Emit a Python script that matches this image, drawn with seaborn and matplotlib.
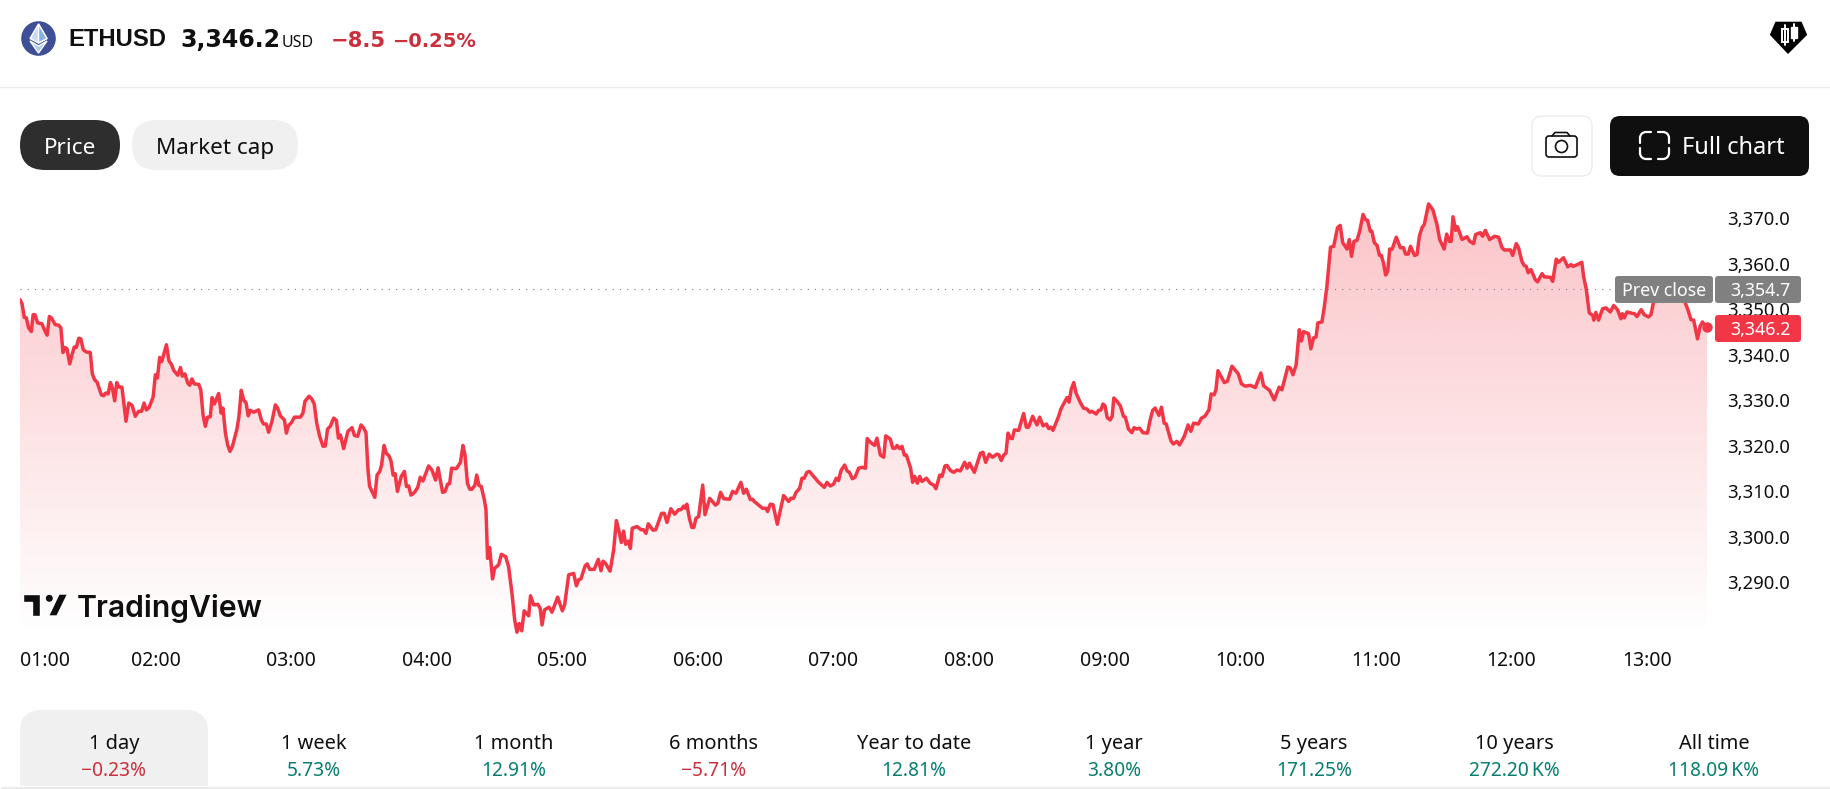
import numpy as np
import pandas as pd
import matplotlib
matplotlib.use("Agg")
import matplotlib.pyplot as plt
from matplotlib.patches import FancyBboxPatch, Circle, Polygon, Rectangle, Arc
from matplotlib.transforms import ScaledTranslation
import seaborn as sns

# ---- session data: minutes after 01:00 and ETHUSD price ----
minutes = [
    0, .9, 1.9, 2.8, 3.8, 5.0, 5.8, 6.6, 7.8, 9.7, 10.8, 12.0, 13.0, 13.9, 15.6, 17.1, 18.1, 19.0, 19.9, 20.8,
    22.0, 23.0, 24.0, 24.9, 26.0, 26.9, 28.0, 29.4, 31.1, 32.0, 33.0, 34.1, 36.0, 37.0, 37.9, 39.0, 40.0, 40.9, 41.9, 42.8,
    43.8, 45.1, 46.2, 46.9, 48.1, 49.6, 51.0, 52.5, 53.8, 54.9, 55.9, 57.1, 58.9, 59.9, 60.8, 61.8, 62.7, 64.8, 65.9, 67.1,
    68.0, 69.8, 71.0, 71.8, 73.0, 74.2, 75.1, 76.1, 77.1, 79.1, 80.0, 81.0, 82.0, 83.0, 84.2, 85.0, 86.0, 87.9, 89.0, 89.8,
    90.9, 91.9, 92.9, 94.0, 96.0, 96.9, 97.9, 99.0, 100.0, 101.0, 101.9, 103.4, 105.6, 106.8, 107.8, 109.0, 110.0, 111.5, 113.0, 114.0,
    115.2, 117.0, 117.9, 118.7, 120.1, 121.4, 124.1, 125.2, 126.1, 127.9, 129.1, 130.2, 131.3, 132.6, 134.1, 135.1, 136.1, 137.3, 138.8, 140.0,
    140.9, 141.8, 143.2, 145.1, 146.9, 148.0, 149.4, 150.9, 152.1, 153.1, 154.0, 154.7, 157.0, 158.0, 159.2, 160.0, 161.1, 162.1, 163.3, 164.2,
    165.1, 166.0, 167.0, 168.7, 170.1, 171.0, 172.0, 173.0, 174.6, 176.0, 177.1, 178.3, 180.8, 182.3, 183.9, 185.0, 186.0, 187.0, 188.1, 189.2,
    190.1, 191.0, 193.1, 194.9, 196.0, 196.9, 198.0, 199.0, 200.0, 201.3, 202.1, 203.1, 204.1, 205.5,
    206.2, 206.9, 207.8, 209.1, 210.0, 211.8, 213.0, 214.9, 216.2, 217.7, 218.9, 219.9, 220.9, 222.0, 223.1, 225.1, 225.9, 227.3, 229.2, 230.2,
    231.0, 232.1, 234.1, 235.4, 237.9, 240.0, 241.0, 242.8, 245.0, 246.2, 247.2, 248.2, 250.1, 251.0, 252.1, 254.1, 255.9, 257.1, 258.0, 259.1,
    261.1, 262.7, 263.9, 264.9, 266.1, 267.1, 268.0, 269.2, 270.1, 270.9, 273.0, 274.8, 275.9, 277.0, 278.0, 280.1, 281.3, 283.9, 285.1, 286.3,
    288.0, 289.7, 291.4, 292.5, 293.7, 294.4, 295.1, 296.2, 297.3, 298.2, 299.1, 300.3, 302.1, 303.1, 305.2, 307.7, 308.8, 310.0, 311.4, 314.0,
    315.3, 316.8, 319.0, 320.2, 321.4, 323.2, 324.2, 324.9, 328.6, 330.1, 330.8, 332.0, 333.2, 335.1, 337.9, 340.1, 341.1, 342.3, 343.4, 345.0,
    346.0, 347.0, 348.2, 349.3, 353.4, 355.9, 357.1, 358.5, 360.0, 361.2, 362.2, 363.3, 364.9,
    366.0, 367.0, 368.3, 369.5, 371.1, 372.6, 374.1, 374.9, 376.3, 378.2, 379.2, 380.7, 382.2, 383.1, 385.1, 386.2, 387.3, 388.1, 389.3, 390.3,
    391.3, 392.2, 394.1, 395.0, 395.9, 397.1, 398.1, 399.1, 401.1, 402.8, 404.3, 405.3, 407.0, 408.0, 409.3, 410.2, 411.7, 413.2, 414.6, 416.1,
    418.0, 419.1, 420.1, 422.3, 425.0, 426.1, 427.3, 428.9, 430.3, 432.3, 433.2, 434.2, 435.3, 436.3, 437.2, 438.2, 439.1, 440.0, 441.9, 444.1,
    445.3, 446.3, 448.1, 450.0, 451.2, 452.7, 454.2, 455.2, 456.2, 457.1, 459.6, 460.6, 463.3, 464.2, 465.2, 466.3, 467.3, 469.2,
    470.6, 472.1, 473.3, 474.3, 476.2, 477.3, 478.3, 479.2, 480.1, 481.1, 482.4, 483.3, 484.0, 485.4, 486.9, 488.3, 489.1, 490.5, 492.0, 493.0,
    494.2, 495.4, 496.9, 498.9, 500.1, 501.2, 502.3, 504.0, 505.1, 506.3, 507.2, 509.3, 510.4, 511.9, 513.1, 515.2, 516.9, 518.1, 519.3, 521.4,
    522.8, 524.3, 526.1, 527.1, 528.4, 529.2, 530.1, 532.9, 534.3, 536.3, 539.1, 540.5, 542.2, 544.4, 546.6, 549.1, 550.3, 552.9, 555.0, 557.2,
    558.4, 561.0, 562.1, 563.3, 564.7, 566.1,
    567.0, 568.0, 570.2, 571.2, 572.4, 573.5, 574.3, 576.1, 577.1, 578.3, 579.9, 581.3, 583.0, 584.2, 585.3, 587.2, 588.2, 589.2, 590.3, 591.6,
    592.8, 594.3, 595.3, 596.3, 597.5, 598.2, 599.3, 600.5, 601.6, 602.4, 603.4, 604.3, 605.2, 606.1, 607.2, 609.0, 610.8, 612.2, 613.1, 614.3,
    615.3, 617.1, 618.2, 619.2, 620.4, 621.4, 623.3, 625.2, 627.0, 628.2, 630.2, 631.3, 632.5, 633.3, 634.1, 635.3, 636.1, 638.1, 640.3, 641.5,
    643.2, 644.1, 646.2, 647.2, 648.4, 650.3, 652.5, 654.3, 655.8, 656.8, 659.5, 660.5, 662.1, 663.1, 664.6, 665.6, 666.5, 667.4, 668.6, 670.5,
    671.5, 673.5, 674.5, 677.2,
    678.2, 679.8, 680.8, 683.0, 684.9, 686.3, 687.2, 689.2, 691.1, 691.9, 693.1, 694.4, 696.0, 696.4, 697.3, 698.5, 700.3, 701.8, 703.7, 705.2,
    706.9, 708.4, 709.1, 709.9, 711.1, 712.5, 714.4, 715.5, 717.4, 718.7, 720.6, 721.7, 722.9, 724.0, 725.8, 728.8, 731.7, 734.7, 736.1, 736.9,
    738.3, 739.4, 740.6, 742.3, 743.5, 744.5, 745.3, 746.5,
]
prices = [
    3352.3, 3351.4, 3348.4, 3348.3, 3346.1, 3345.3, 3349.0, 3349.0, 3347.2, 3347.0, 3345.7, 3344.5, 3348.6, 3348.3, 3346.8, 3346.7, 3346.1, 3340.7, 3341.8, 3341.5,
    3338.2, 3340.2, 3341.9, 3341.8, 3343.8, 3343.7, 3341.3, 3340.8, 3340.7, 3336.0, 3334.7, 3334.2, 3331.4, 3331.2, 3331.8, 3331.6, 3334.1, 3332.9, 3330.1, 3334.1,
    3333.1, 3333.1, 3328.5, 3325.6, 3329.6, 3329.1, 3326.7, 3327.8, 3327.8, 3329.6, 3328.1, 3328.6, 3330.9, 3335.8, 3335.1, 3339.6, 3338.7, 3342.4, 3338.9, 3338.0,
    3336.8, 3335.7, 3337.4, 3335.5, 3336.0, 3334.0, 3333.5, 3334.9, 3333.8, 3333.7, 3332.5, 3327.0, 3324.5, 3326.5, 3326.6, 3330.8, 3329.4, 3331.7, 3327.4, 3328.5,
    3323.0, 3320.4, 3319.0, 3320.1, 3323.9, 3326.7, 3332.4, 3330.2, 3329.7, 3326.8, 3328.0, 3327.6, 3328.1, 3325.9, 3325.0, 3325.0, 3323.2, 3325.6, 3329.2, 3328.5,
    3326.8, 3325.9, 3323.0, 3324.6, 3325.3, 3326.5, 3326.5, 3327.4, 3330.0, 3331.1, 3330.5, 3329.4, 3325.2, 3322.3, 3320.1, 3320.2, 3323.9, 3324.5, 3326.3, 3325.8,
    3321.9, 3322.6, 3319.6, 3323.4, 3324.2, 3322.5, 3322.3, 3324.8, 3324.1, 3323.1, 3314.9, 3311.3, 3308.9, 3313.8, 3314.6, 3316.0, 3320.3, 3318.6, 3318.0, 3316.8,
    3313.8, 3314.1, 3310.2, 3313.5, 3314.6, 3311.3, 3311.4, 3309.4, 3310.0, 3311.1, 3313.3, 3312.5, 3315.8, 3314.9, 3312.7, 3315.4, 3312.7, 3310.0, 3310.2, 3311.8,
    3311.9, 3315.3, 3315.2, 3316.6, 3320.3, 3318.2, 3312.0, 3310.7, 3310.7, 3311.6, 3313.8, 3311.5, 3311.3, 3308.3,
    3306.2, 3295.5, 3297.9, 3291.0, 3293.3, 3294.1, 3296.4, 3295.9, 3293.7, 3287.8, 3282.0, 3279.3, 3281.2, 3279.6, 3284.0, 3282.9, 3287.3, 3285.3, 3285.4, 3284.5,
    3280.9, 3284.2, 3284.8, 3283.7, 3287.0, 3284.0, 3285.3, 3291.9, 3292.2, 3289.5, 3290.8, 3291.0, 3293.9, 3294.3, 3293.1, 3293.1, 3295.3, 3292.8, 3294.9, 3294.4,
    3292.7, 3297.4, 3303.8, 3301.8, 3299.0, 3301.5, 3298.6, 3299.3, 3297.7, 3302.1, 3302.5, 3301.8, 3301.8, 3301.0, 3303.1, 3301.7, 3301.8, 3305.4, 3305.4, 3303.4,
    3306.4, 3305.2, 3306.2, 3306.2, 3307.0, 3306.5, 3307.4, 3304.3, 3302.3, 3302.3, 3304.3, 3304.7, 3311.6, 3305.1, 3308.7, 3307.2, 3307.6, 3310.0, 3308.6, 3308.5,
    3310.2, 3309.8, 3312.2, 3309.8, 3310.7, 3308.4, 3308.5, 3308.0, 3306.5, 3306.5, 3305.8, 3307.4, 3307.3, 3303.0, 3309.3, 3308.0, 3308.7, 3308.7, 3310.0, 3310.9,
    3313.1, 3313.1, 3314.4, 3314.6, 3312.2, 3311.1, 3312.2, 3311.4, 3311.8, 3313.1, 3312.6, 3314.8, 3316.0,
    3314.7, 3314.4, 3313.0, 3313.3, 3315.3, 3315.5, 3315.3, 3321.8, 3321.0, 3320.3, 3321.9, 3318.2, 3317.7, 3322.4, 3321.7, 3319.7, 3319.7, 3320.3, 3319.6, 3320.1,
    3318.2, 3318.2, 3315.3, 3312.2, 3313.5, 3312.0, 3313.5, 3312.4, 3313.1, 3312.0, 3311.6, 3310.8, 3313.8, 3313.5, 3315.8, 3315.9, 3314.8, 3314.4, 3314.9, 3314.7,
    3316.6, 3315.3, 3316.4, 3314.4, 3318.6, 3318.8, 3316.6, 3318.4, 3317.7, 3318.4, 3318.2, 3317.0, 3318.2, 3318.6, 3323.0, 3321.9, 3321.8, 3323.7, 3323.6, 3327.3,
    3324.3, 3324.3, 3326.7, 3324.8, 3326.5, 3324.6, 3325.0, 3324.0, 3324.3, 3323.6, 3326.7, 3328.3, 3330.8, 3329.8, 3332.7, 3334.1, 3331.8, 3329.7,
    3328.5, 3328.3, 3327.6, 3327.8, 3327.2, 3328.0, 3328.1, 3329.4, 3329.0, 3326.4, 3325.9, 3326.7, 3330.7, 3330.0, 3329.0, 3326.7, 3326.5, 3323.9, 3323.1, 3324.2,
    3323.9, 3324.1, 3323.1, 3323.0, 3325.9, 3328.0, 3328.5, 3326.9, 3328.7, 3325.2, 3325.0, 3321.3, 3320.6, 3321.2, 3320.4, 3322.3, 3324.8, 3323.4, 3325.2, 3325.0,
    3326.3, 3326.7, 3328.1, 3331.6, 3331.4, 3332.5, 3336.7, 3334.1, 3334.4, 3337.7, 3336.0, 3333.8, 3333.3, 3333.5, 3333.0, 3336.2, 3333.4, 3332.4, 3330.3, 3333.1,
    3332.5, 3337.5, 3337.3, 3335.8, 3338.0, 3345.7,
    3343.2, 3345.3, 3344.8, 3341.5, 3343.9, 3344.1, 3347.2, 3347.4, 3350.5, 3355.2, 3363.8, 3364.0, 3368.1, 3368.6, 3364.8, 3363.4, 3365.5, 3361.8, 3365.1, 3365.3,
    3367.3, 3371.0, 3369.9, 3369.7, 3367.3, 3367.3, 3364.8, 3364.2, 3362.0, 3362.0, 3360.2, 3357.7, 3358.5, 3363.4, 3363.4, 3366.0, 3363.7, 3363.7, 3362.3, 3362.3,
    3364.0, 3362.0, 3362.2, 3366.2, 3368.1, 3368.8, 3373.3, 3372.0, 3368.8, 3365.5, 3363.4, 3366.7, 3365.1, 3365.1, 3370.5, 3367.5, 3368.3, 3365.5, 3366.1, 3365.1,
    3364.6, 3366.6, 3367.0, 3366.2, 3367.5, 3365.5, 3366.2, 3366.0, 3363.7, 3363.2, 3363.2, 3362.0, 3364.6, 3363.7, 3360.7, 3359.8, 3359.6, 3358.2, 3358.9, 3356.7,
    3356.2, 3358.0, 3357.3, 3357.2,
    3356.3, 3361.2, 3360.5, 3361.5, 3359.5, 3360.0, 3359.6, 3360.0, 3360.5, 3357.4, 3354.5, 3349.4, 3348.8, 3347.8, 3349.5, 3347.8, 3350.3, 3350.5, 3349.6, 3351.0,
    3350.1, 3348.1, 3349.2, 3348.3, 3349.6, 3349.4, 3349.2, 3348.6, 3350.1, 3349.0, 3348.5, 3349.0, 3351.9, 3355.2, 3356.0, 3355.6, 3356.0, 3355.2, 3353.8, 3351.6,
    3349.7, 3347.9, 3347.8, 3343.7, 3346.5, 3347.4, 3346.8, 3346.2,
]
prev_close = 3354.7
last_price = 3346.2

hour_ticks = [0, 60, 120, 180, 240, 300, 360, 420, 480, 540, 600, 660, 720]
hour_labels = ["01:00", "02:00", "03:00", "04:00", "05:00", "06:00", "07:00",
               "08:00", "09:00", "10:00", "11:00", "12:00", "13:00"]
price_ticks = [3290, 3300, 3310, 3320, 3330, 3340, 3350, 3360, 3370]

range_names = ["1 day", "1 week", "1 month", "6 months", "Year to date",
               "1 year", "5 years", "10 years", "All time"]
range_moves = ["\u22120.23%", "5.73%", "12.91%", "\u22125.71%", "12.81%",
               "3.80%", "171.25%", "272.20\u2009K%", "118.09\u2009K%"]

RED = "#f23645"
TEXT_RED = "#cc2f3c"
TEXT_GREEN = "#057f6f"
INK = "#0f0f0f"
W, H = 1831, 789

sns.set_theme(style="white")
plt.rcParams["font.family"] = ["Noto Sans", "DejaVu Sans"]


def px_box(left, top, right, bottom):
    return [left / W, 1 - bottom / H, (right - left) / W, (bottom - top) / H]


fig = plt.figure(figsize=(W / 100, H / 100), dpi=100, facecolor="white")

# ---- price pane ----
ax = fig.add_axes(px_box(20, 200, 1707, 636))
df = pd.DataFrame({"minute": minutes, "price": prices})
x_end = minutes[-1]
y_low, y_high = 3278.47, 3374.17

ramp = np.zeros((256, 2, 4))
ramp[..., :3] = matplotlib.colors.to_rgb(RED)
ramp[..., 3] = np.linspace(0.30, 0.0, 256)[:, None]
gradient = ax.imshow(ramp, extent=(0, x_end, y_low, y_high), origin="upper",
                     aspect="auto", zorder=1, interpolation="bilinear")
area = ax.fill_between(df["minute"], df["price"], y_low, facecolor="none", edgecolor="none")
gradient.set_clip_path(area.get_paths()[0], ax.transData)

ax.axhline(prev_close, color="#7d7d7d", lw=0.8, ls=(0, (1, 5.5)), zorder=2)
sns.lineplot(data=df, x="minute", y="price", ax=ax, color=RED, linewidth=2.5,
             errorbar=None, sort=False, zorder=3)
ax.plot([x_end], [last_price], "o", color=RED, ms=7.5, mec="none", clip_on=False, zorder=4)

ax.set_xlim(0, x_end)
ax.set_ylim(y_low, y_high)
ax.set_xlabel("")
ax.set_ylabel("")
ax.patch.set_alpha(0)
sns.despine(ax=ax, left=True, bottom=True, right=True, top=True)

ax.yaxis.tick_right()
ax.set_yticks(price_ticks)
ax.set_yticklabels([f"{v:,.1f}" for v in price_ticks])
ax.tick_params(axis="y", length=0, pad=14.5, labelsize=13.3, labelcolor=INK)
ax.set_xticks(hour_ticks)
ax.set_xticklabels(hour_labels)
ax.tick_params(axis="x", length=0, pad=10.5, labelsize=14, labelcolor=INK)
ax.get_xticklabels()[0].set_ha("left")
nudge_up = ScaledTranslation(0, 1 / 100, fig.dpi_scale_trans)
for tick_text in ax.get_yticklabels():
    tick_text.set_transform(tick_text.get_transform() + nudge_up)

# ---- page furniture, laid out in pixel units on a transparent overlay ----
ui = fig.add_axes([0, 0, 1, 1], zorder=5)
ui.set_xlim(0, W)
ui.set_ylim(H, 0)
ui.axis("off")


def pill(left, top, right, bottom, radius, face, edge="none", lw=0):
    ui.add_patch(FancyBboxPatch((left, top), right - left, bottom - top,
                                boxstyle=f"round,pad=0,rounding_size={radius}",
                                fc=face, ec=edge, lw=lw))


def label(x, y, s, size, color=INK, ha="center", weight="normal", family=None):
    ui.text(x, y, s, fontsize=size, color=color, ha=ha, va="center", fontweight=weight,
            fontfamily=family or plt.rcParams["font.family"])


# header
ui.plot([0, W], [86.5, 86.5], color="#ebebeb", lw=1)
ui.add_patch(Circle((38.5, 38.5), 18, fc="#3f4f96"))
ui.add_patch(Polygon([(38.5, 24), (47, 38.5), (38.5, 43), (30, 38.5)], fc="#c7dcf2"))
ui.add_patch(Polygon([(38.5, 24), (47, 38.5), (38.5, 43)], fc="#86b3e3"))
ui.add_patch(Polygon([(30, 41), (38.5, 46), (47, 41), (38.5, 53)], fc="#a9cbee"))
label(68, 39, "ETHUSD", 17.2, ha="left", weight="bold", family="Liberation Sans")
label(180, 40, "3,346.2", 17, ha="left", weight="bold", family="DejaVu Sans")
label(282, 43, "USD", 11.5, ha="left")
label(331, 41, "\u22128.5", 15.2, color=TEXT_RED, ha="left", weight="bold", family="DejaVu Sans")
label(393, 41, "\u22120.25%", 14, color=TEXT_RED, ha="left", weight="bold", family="DejaVu Sans")

# pentagon badge with candles
ui.add_patch(Polygon([(1775, 21), (1802, 21), (1808, 35), (1788, 55), (1769, 35)], fc="#000000"))
ui.add_patch(Rectangle((1782.5, 29), 6, 13, fc="none", ec="white", lw=1.4))
ui.plot([1785.5, 1785.5], [25, 45], color="white", lw=1.4)
ui.add_patch(Rectangle((1791, 27), 6, 11, fc="white"))
ui.plot([1794, 1794], [24, 41], color="white", lw=1.4)

# selector pills
pill(20, 120, 120, 170, 25, "#2e2e2e")
label(70, 148, "Price", 16.2, color="white")
pill(132, 120, 298, 170, 25, "#f0f0f0")
label(215, 148, "Market cap", 16.2)

# camera button
pill(1532, 116, 1592, 176, 10, "white", edge="#ececec", lw=1)
pill(1546, 136, 1577, 157, 3, "none", edge=INK, lw=1.2)
ui.plot([1552, 1555, 1567, 1570], [136, 132.5, 132.5, 136], color=INK, lw=1.2)
ui.add_patch(Circle((1561.5, 146.5), 6, fc="none", ec=INK, lw=1.2))

# full chart button
pill(1610, 116, 1809, 176, 10, INK)
for cx, cy, start in [(1646, 138, 180), (1663, 138, 270), (1646, 153, 90), (1663, 153, 0)]:
    ui.add_patch(Arc((cx, cy), 12, 12, theta1=start, theta2=start + 90, ec="white", lw=1.6))
for xs, ys in [((1646, 1651), (132, 132)), ((1658, 1663), (132, 132)),
               ((1646, 1651), (159, 159)), ((1658, 1663), (159, 159)),
               ((1640, 1640), (138, 143)), ((1669, 1669), (138, 143)),
               ((1640, 1640), (148, 153)), ((1669, 1669), (148, 153))]:
    ui.plot(xs, ys, color="white", lw=1.6, solid_capstyle="round")
label(1682, 148, "Full chart", 17, color="white", ha="left")

# axis flags for the previous close and the last price
pill(1615, 276, 1713, 303, 3, "#808080")
pill(1715, 276, 1801, 303, 3, "#808080")
pill(1715, 315, 1801, 342, 3, RED)
label(1664, 291, "Prev close", 12.8, color="white", weight="medium")
label(1730, 291, f"{prev_close:,.1f}", 12.8, color="white", ha="left", weight="medium")
label(1730, 330, f"{last_price:,.1f}", 12.8, color="white", ha="left", weight="bold")

# brand mark
ui.add_patch(Polygon([(23, 594), (40, 594), (40, 616), (32, 616), (32, 602), (23, 602)], fc=INK))
ui.add_patch(Circle((49.3, 598.3), 4.2, fc=INK))
ui.add_patch(Polygon([(48.5, 616), (57, 616), (67.7, 594), (59, 594)], fc=INK))
ui.text(77, 617, "TradingView", fontsize=21.7, color=INK, ha="left", va="baseline",
        fontfamily="Inter", fontweight="semibold")

# lookback tabs
pill(20, 710, 208, 830, 22, "#f0f0f0")
ui.add_patch(Rectangle((0, 786), W, 3, fc="#e6e6e6"))
for i, (name, move) in enumerate(zip(range_names, range_moves)):
    cx = 114 + 200 * i
    label(cx, 744, name, 14.4)
    label(cx, 771, move, 13.8, color=TEXT_RED if move.startswith("\u2212") else TEXT_GREEN)

fig.savefig("out.png", dpi=100, facecolor="white")
